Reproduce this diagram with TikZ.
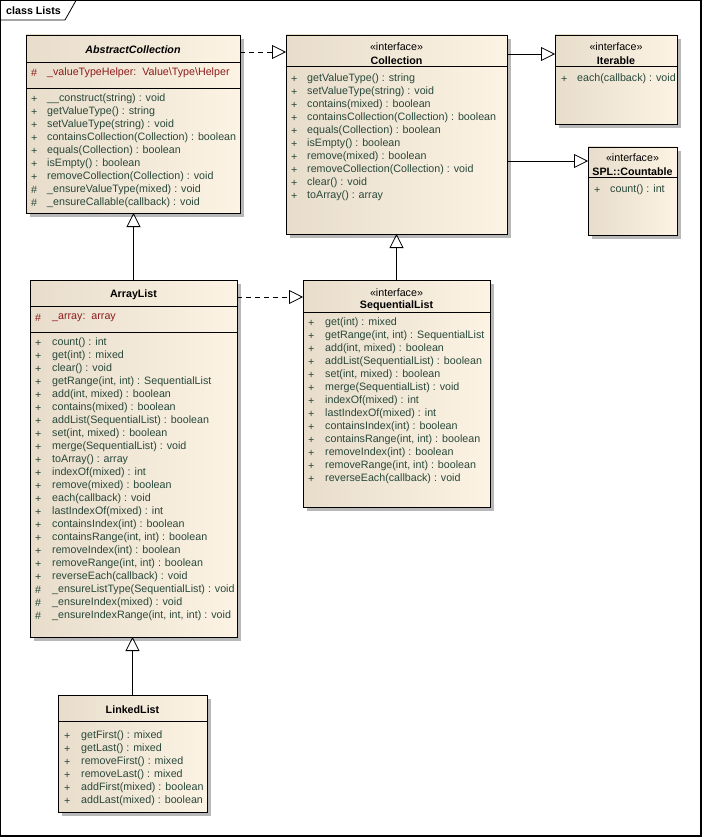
\documentclass[tikz,border=0pt]{standalone}
\usepackage{fontspec}
\setmainfont{Liberation Sans}
\usetikzlibrary{arrows.meta,shadows,positioning}
\definecolor{boxleft}{RGB}{232,221,203}
\definecolor{boxright}{RGB}{252,243,228}
\definecolor{optext}{RGB}{40,72,58}
\definecolor{attrtext}{RGB}{140,28,28}

\begin{document}
\begin{tikzpicture}[x=1pt, y=-1pt,
    font=\fontsize{10.7}{13}\selectfont,
    umlbox/.style={draw=black, line width=0.9pt, anchor=north west, inner sep=0pt, outer sep=0pt,
      left color=boxleft, right color=boxright,
      drop shadow={shadow xshift=4pt, shadow yshift=-4pt, fill=black!28, opacity=1}},
    row/.style={anchor=west, inner sep=0pt, text=optext},
    attr/.style={row, text=attrtext},
    title/.style={font=\fontsize{10.7}{13}\selectfont\bfseries, inner sep=0pt},
    stereo/.style={inner sep=0pt},
    inherit/.style={-{Triangle[open, fill=white, length=14pt, width=14pt]}, line width=0.8pt},
    realize/.style={inherit, dash pattern=on 5pt off 4pt},
  ]
  \useasboundingbox (0,0) rectangle (703,837);

  % Frame and tab
  \draw[line width=1pt] (0.5,0.5) rectangle (700,835);
  \draw[line width=2.5pt] (701,0) -- (701,836) -- (0,836);
  \draw[line width=0.8pt] (0.5,20) -- (65,20) -- (76,0.5);
  \node[title, anchor=west] (frame-name) at (6,11) {class Lists};

  % AbstractCollection
  \node[umlbox, minimum width=214pt, minimum height=178pt] (ac) at (26,35) {};
  \node[title, font=\fontsize{10.7}{13}\selectfont\bfseries\itshape] (ac-name) at (133,50) {AbstractCollection};
  \draw[line width=0.8pt] (ac.west |- 0,62) -- (ac.east |- 0,62);
  \draw[line width=0.8pt] (ac.west |- 0,88) -- (ac.east |- 0,88);
  \node[attr] (ac-as) at (31,73) {\#};
  \node[attr] (ac-at) at (47,73) {\_valueTypeHelper:\ \ Value\textbackslash Type\textbackslash Helper};
  \foreach \sg/\op [count=\i] in {+/{\_\_construct(string) : void},
      +/{getValueType() : string}, +/{setValueType(string) : void},
      +/{containsCollection(Collection) : boolean}, +/{equals(Collection) : boolean},
      +/{isEmpty() : boolean}, +/{removeCollection(Collection) : void},
      \#/{\_ensureValueType(mixed) : void}, \#/{\_ensureCallable(callback) : void}}
  {
    \node[row] (ac-s\i) at (31,86+13*\i) {\sg};
    \node[row] (ac-o\i) at (47,86+13*\i) {\op};
  }

  % Collection
  \node[umlbox, minimum width=221pt, minimum height=199pt] (coll) at (286,35) {};
  \node[stereo] (coll-st) at (396.5,47) {«interface»};
  \node[title] (coll-name) at (396.5,61) {Collection};
  \draw[line width=0.8pt] (coll.west |- 0,66) -- (coll.east |- 0,66);
  \foreach \sg/\op [count=\i] in {+/{getValueType() : string},
      +/{setValueType(string) : void}, +/{contains(mixed) : boolean},
      +/{containsCollection(Collection) : boolean}, +/{equals(Collection) : boolean},
      +/{isEmpty() : boolean}, +/{remove(mixed) : boolean},
      +/{removeCollection(Collection) : void}, +/{clear() : void},
      +/{toArray() : array}}
  {
    \node[row] (coll-s\i) at (291,66+13*\i) {\sg};
    \node[row] (coll-o\i) at (307,66+13*\i) {\op};
  }

  % Iterable
  \node[umlbox, minimum width=122pt, minimum height=89pt] (iter) at (555,35) {};
  \node[stereo] (iter-st) at (616,47) {«interface»};
  \node[title] (iter-name) at (616,61) {Iterable};
  \draw[line width=0.8pt] (iter.west |- 0,66) -- (iter.east |- 0,66);
  \node[row] (iter-s1) at (561,79) {+};
  \node[row] (iter-o1) at (577,79) {each(callback) : void};

  % SPL::Countable
  \node[umlbox, minimum width=89pt, minimum height=88pt] (cnt) at (588,147) {};
  \node[stereo] (cnt-st) at (632.5,158) {«interface»};
  \node[title] (cnt-name) at (632.5,172) {SPL::Countable};
  \draw[line width=0.8pt] (cnt.west |- 0,177) -- (cnt.east |- 0,177);
  \node[row] (cnt-s1) at (594,190) {+};
  \node[row] (cnt-o1) at (610,190) {count() : int};

  % ArrayList
  \node[umlbox, minimum width=207pt, minimum height=357pt] (al) at (30,280) {};
  \node[title] (al-name) at (133.5,295) {ArrayList};
  \draw[line width=0.8pt] (al.west |- 0,306) -- (al.east |- 0,306);
  \draw[line width=0.8pt] (al.west |- 0,332) -- (al.east |- 0,332);
  \node[attr] (al-as) at (35,318) {\#};
  \node[attr] (al-at) at (52,318) {\_array:\ \ array};
  \foreach \sg/\op [count=\i] in {+/{count() : int}, +/{get(int) : mixed},
      +/{clear() : void}, +/{getRange(int, int) : SequentialList},
      +/{add(int, mixed) : boolean}, +/{contains(mixed) : boolean},
      +/{addList(SequentialList) : boolean}, +/{set(int, mixed) : boolean},
      +/{merge(SequentialList) : void}, +/{toArray() : array},
      +/{indexOf(mixed) : int}, +/{remove(mixed) : boolean},
      +/{each(callback) : void}, +/{lastIndexOf(mixed) : int},
      +/{containsIndex(int) : boolean}, +/{containsRange(int, int) : boolean},
      +/{removeIndex(int) : boolean}, +/{removeRange(int, int) : boolean},
      +/{reverseEach(callback) : void}, \#/{\_ensureListType(SequentialList) : void},
      \#/{\_ensureIndex(mixed) : void}, \#/{\_ensureIndexRange(int, int, int) : void}}
  {
    \node[row] (al-s\i) at (35,330+13*\i) {\sg};
    \node[row] (al-o\i) at (52,330+13*\i) {\op};
  }

  % SequentialList
  \node[umlbox, minimum width=187pt, minimum height=227pt] (sl) at (303,280) {};
  \node[stereo] (sl-st) at (396.5,293) {«interface»};
  \node[title] (sl-name) at (396.5,306) {SequentialList};
  \draw[line width=0.8pt] (sl.west |- 0,312) -- (sl.east |- 0,312);
  \foreach \sg/\op [count=\i] in {+/{get(int) : mixed},
      +/{getRange(int, int) : SequentialList}, +/{add(int, mixed) : boolean},
      +/{addList(SequentialList) : boolean}, +/{set(int, mixed) : boolean},
      +/{merge(SequentialList) : void}, +/{indexOf(mixed) : int},
      +/{lastIndexOf(mixed) : int}, +/{containsIndex(int) : boolean},
      +/{containsRange(int, int) : boolean}, +/{removeIndex(int) : boolean},
      +/{removeRange(int, int) : boolean}, +/{reverseEach(callback) : void}}
  {
    \node[row] (sl-s\i) at (308,310+13*\i) {\sg};
    \node[row] (sl-o\i) at (325,310+13*\i) {\op};
  }

  % LinkedList
  \node[umlbox, minimum width=149pt, minimum height=117pt] (ll) at (58,695) {};
  \node[title] (ll-name) at (132.5,710) {LinkedList};
  \draw[line width=0.8pt] (ll.west |- 0,721) -- (ll.east |- 0,721);
  \foreach \sg/\op [count=\i] in {+/{getFirst() : mixed}, +/{getLast() : mixed},
      +/{removeFirst() : mixed}, +/{removeLast() : mixed},
      +/{addFirst(mixed) : boolean}, +/{addLast(mixed) : boolean}}
  {
    \node[row] (ll-s\i) at (64,723+13*\i) {\sg};
    \node[row] (ll-o\i) at (81,723+13*\i) {\op};
  }

  % Relations
  \coordinate (cnt-in) at ([yshift=-14pt]cnt.north west);
  \draw[realize] ([yshift=-17pt]ac.north east) -- ([yshift=-17pt]coll.north west);
  \draw[inherit] ([yshift=-19pt]coll.north east) -- ([yshift=-19pt]iter.north west);
  \draw[inherit] (coll.east |- cnt-in) -- (cnt-in);
  \draw[inherit] (al.north) -- (al.north |- ac.south);
  \draw[realize] ([yshift=-17pt]al.north east) -- ([yshift=-17pt]sl.north west);
  \draw[inherit] (sl.north) -- (sl.north |- coll.south);
  \draw[inherit] (ll.north) -- (ll.north |- al.south);
\end{tikzpicture}
\end{document}
